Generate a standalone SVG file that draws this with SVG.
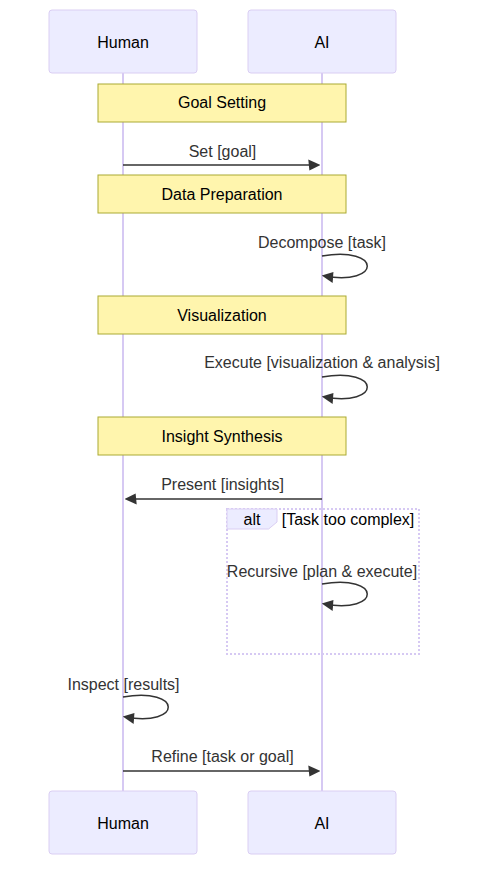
<svg xmlns="http://www.w3.org/2000/svg" width="488" height="880" viewBox="0 0 488 880">
<style>
text{font-family:"trebuchet ms","Liberation Sans",Arial,sans-serif;font-size:16px;text-anchor:middle}
.actor{fill:#ECECFF;stroke:#DACEF3;stroke-width:1}
.actor-text{fill:#000}
.lifeline{stroke:#D6C9F3;stroke-width:2}
.note{fill:#fff5ad;stroke:#aaaa33;stroke-width:1}
.note-text{fill:#000}
.msg{stroke:#333;stroke-width:1.5;fill:none}
.msg-text{fill:#333}
.loop{fill:none;stroke:#D6C9F3;stroke-width:2;stroke-dasharray:2,2}
.label-box{fill:#ECECFF;stroke:#DACEF3;stroke-width:1}
</style>
<defs>
<marker id="arrow" viewBox="-1 0 11 10" refX="7.9" refY="5" markerWidth="12" markerHeight="12" markerUnits="userSpaceOnUse" orient="auto">
<path d="M -1 0 L 10 5 L 0 10 z" fill="#333"/>
</marker>
</defs>
<rect width="488" height="880" fill="#fff"/>
<g id="lifelines">
<line class="lifeline" x1="123" y1="73" x2="123" y2="791"/>
<line class="lifeline" x1="322" y1="73" x2="322" y2="791"/>
</g>
<g id="actor-human-top"><rect class="actor" x="49" y="10" width="148" height="63" rx="3"/><text class="actor-text" x="123" y="48">Human</text></g>
<g id="actor-ai-top"><rect class="actor" x="248" y="10" width="148" height="63" rx="3"/><text class="actor-text" x="322" y="48">AI</text></g>
<g id="note-goal"><rect class="note" x="98" y="84" width="248" height="38"/><text class="note-text" x="222" y="108">Goal Setting</text></g>
<g id="note-data"><rect class="note" x="98" y="175" width="248" height="38"/><text class="note-text" x="222" y="200">Data Preparation</text></g>
<g id="note-vis"><rect class="note" x="98" y="296" width="248" height="38"/><text class="note-text" x="222" y="321">Visualization</text></g>
<g id="note-insight"><rect class="note" x="98" y="417" width="248" height="38"/><text class="note-text" x="222" y="442">Insight Synthesis</text></g>
<g id="alt-block">
<rect class="loop" x="227" y="509" width="192" height="145"/>
<polygon class="label-box" points="227,509 277,509 277,522 268.6,529 227,529"/>
<text class="actor-text" x="252" y="525">alt</text>
<text class="actor-text" x="348" y="525">[Task too complex]</text>
</g>
<g id="connectors">
<text class="msg-text" x="222.5" y="157">Set [goal]</text>
<line class="msg" x1="123" y1="165" x2="318" y2="165" marker-end="url(#arrow)"/>
<text class="msg-text" x="322" y="248">Decompose [task]</text>
<path class="msg" d="M 322,256 C 382,246 382,286 324,276" marker-end="url(#arrow)"/>
<text class="msg-text" x="322" y="368">Execute [visualization &amp; analysis]</text>
<path class="msg" d="M 322,377 C 382,367 382,407 324,397" marker-end="url(#arrow)"/>
<text class="msg-text" x="222.5" y="490">Present [insights]</text>
<line class="msg" x1="322" y1="499" x2="127" y2="499" marker-end="url(#arrow)"/>
<text class="msg-text" x="322" y="577">Recursive [plan &amp; execute]</text>
<path class="msg" d="M 322,584 C 382,574 382,614 324,604" marker-end="url(#arrow)"/>
<text class="msg-text" x="123.5" y="690">Inspect [results]</text>
<path class="msg" d="M 123,697 C 183,687 183,727 125,717" marker-end="url(#arrow)"/>
<text class="msg-text" x="222.5" y="762">Refine [task or goal]</text>
<line class="msg" x1="123" y1="771" x2="318" y2="771" marker-end="url(#arrow)"/>
</g>
<g id="actor-human-bottom"><rect class="actor" x="49" y="791" width="148" height="63" rx="3"/><text class="actor-text" x="123" y="829">Human</text></g>
<g id="actor-ai-bottom"><rect class="actor" x="248" y="791" width="148" height="63" rx="3"/><text class="actor-text" x="322" y="829">AI</text></g>
</svg>
